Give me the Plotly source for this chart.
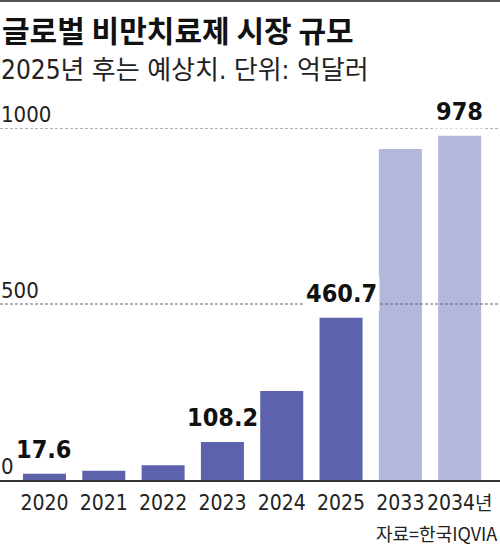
import plotly.graph_objects as go

# 글로벌 비만치료제 시장 규모 (억달러), 2025년 후는 예상치
years = ["2020", "2021", "2022", "2023", "2024", "2025", "2033", "2034"]
year_labels = ["2020", "2021", "2022", "2023", "2024", "2025", "2033",
               "2034<span style='font-size:19px'>년</span>"]
values = [17.6, 26, 42, 108.2, 253, 460.7, 940, 978]
shown_labels = ["17.6", "", "", "108.2", "", "460.7", "", "978"]
forecast = [False, False, False, False, False, False, True, True]
grid = [500, 1000]

DARK = "#5c63ac"
LIGHT = "#b4b7dc"
NARROW = "DejaVu Sans Condensed, Noto Sans CJK KR, sans-serif"
KR = "Noto Sans CJK KR, sans-serif"

colors = [LIGHT if f else DARK for f in forecast]
idx = list(range(len(years)))

fig = go.Figure()
fig.add_trace(go.Bar(
    x=idx, y=values, marker_color=colors, marker_line_width=0,
    width=0.725, hoverinfo="skip",
))

# dashed reference lines drawn on top of the bars
for v in grid:
    fig.add_shape(type="line", xref="paper", yref="y", x0=0, x1=1, y0=v, y1=v,
                  line=dict(color="#666", width=1, dash="3px,2px"), layer="above")

# thin rule at the very top
fig.add_shape(type="line", xref="paper", yref="paper", x0=0, x1=1, y0=1.361, y1=1.361,
              line=dict(color="#555", width=2))

ann = []
# value labels (white box only where a label sits on a dashed line)
for i, v, t in zip(idx, values, shown_labels):
    if t:
        on_line = any(0 < g - v < 60 for g in grid)
        ann.append(dict(x=i, y=v, text="<b>" + t + "</b>", showarrow=False, yanchor="bottom",
                        yshift=7, bgcolor="white" if on_line else "rgba(0,0,0,0)", borderpad=2,
                        font=dict(family=NARROW, size=25, color="#111")))
# y labels above the lines
for v in [0] + grid:
    ann.append(dict(xref="paper", x=0, y=v, text=str(v), showarrow=False,
                    xanchor="left", yanchor="bottom", xshift=-1, yshift=-1,
                    font=dict(family=NARROW, size=22, color="#222")))

ann.append(dict(xref="paper", yref="paper", x=0, y=1.35, xanchor="left", yanchor="top",
                text="<b>글로벌 비만치료제 시장 규모</b>", showarrow=False, xshift=0,
                font=dict(family=KR, size=30, color="#111")))
ann.append(dict(xref="paper", yref="paper", x=0, y=1.212, xanchor="left", yanchor="top",
                text="2025년 후는 예상치. 단위: 억달러", showarrow=False, xshift=-1,
                font=dict(family=NARROW, size=26, color="#222")))
ann.append(dict(xref="paper", yref="paper", x=1, y=-0.108, xanchor="right", yanchor="top",
                text="자료=한국IQVIA", showarrow=False, xshift=-1,
                font=dict(family=KR, size=18, color="#222")))

fig.update_layout(
    width=500, height=545,
    margin=dict(l=0, r=0, t=128, b=65),
    paper_bgcolor="white", plot_bgcolor="white",
    showlegend=False,
    annotations=ann,
    xaxis=dict(
        range=[-0.75, 7.68], tickmode="array",
        tickvals=idx, ticktext=year_labels, tickangle=0, automargin=False,
        showgrid=False, zeroline=False, showline=True, linecolor="#333", linewidth=1.5,
        ticks="", ticklabelstandoff=3,
        tickfont=dict(family=NARROW, size=21, color="#222"),
    ),
    yaxis=dict(range=[0, 1000], showgrid=False, zeroline=False, automargin=False,
               showticklabels=False, showline=False),
)

fig.write_html("out.html", config={"displayModeBar": False},
               post_script="document.body.style.margin='0px';")
